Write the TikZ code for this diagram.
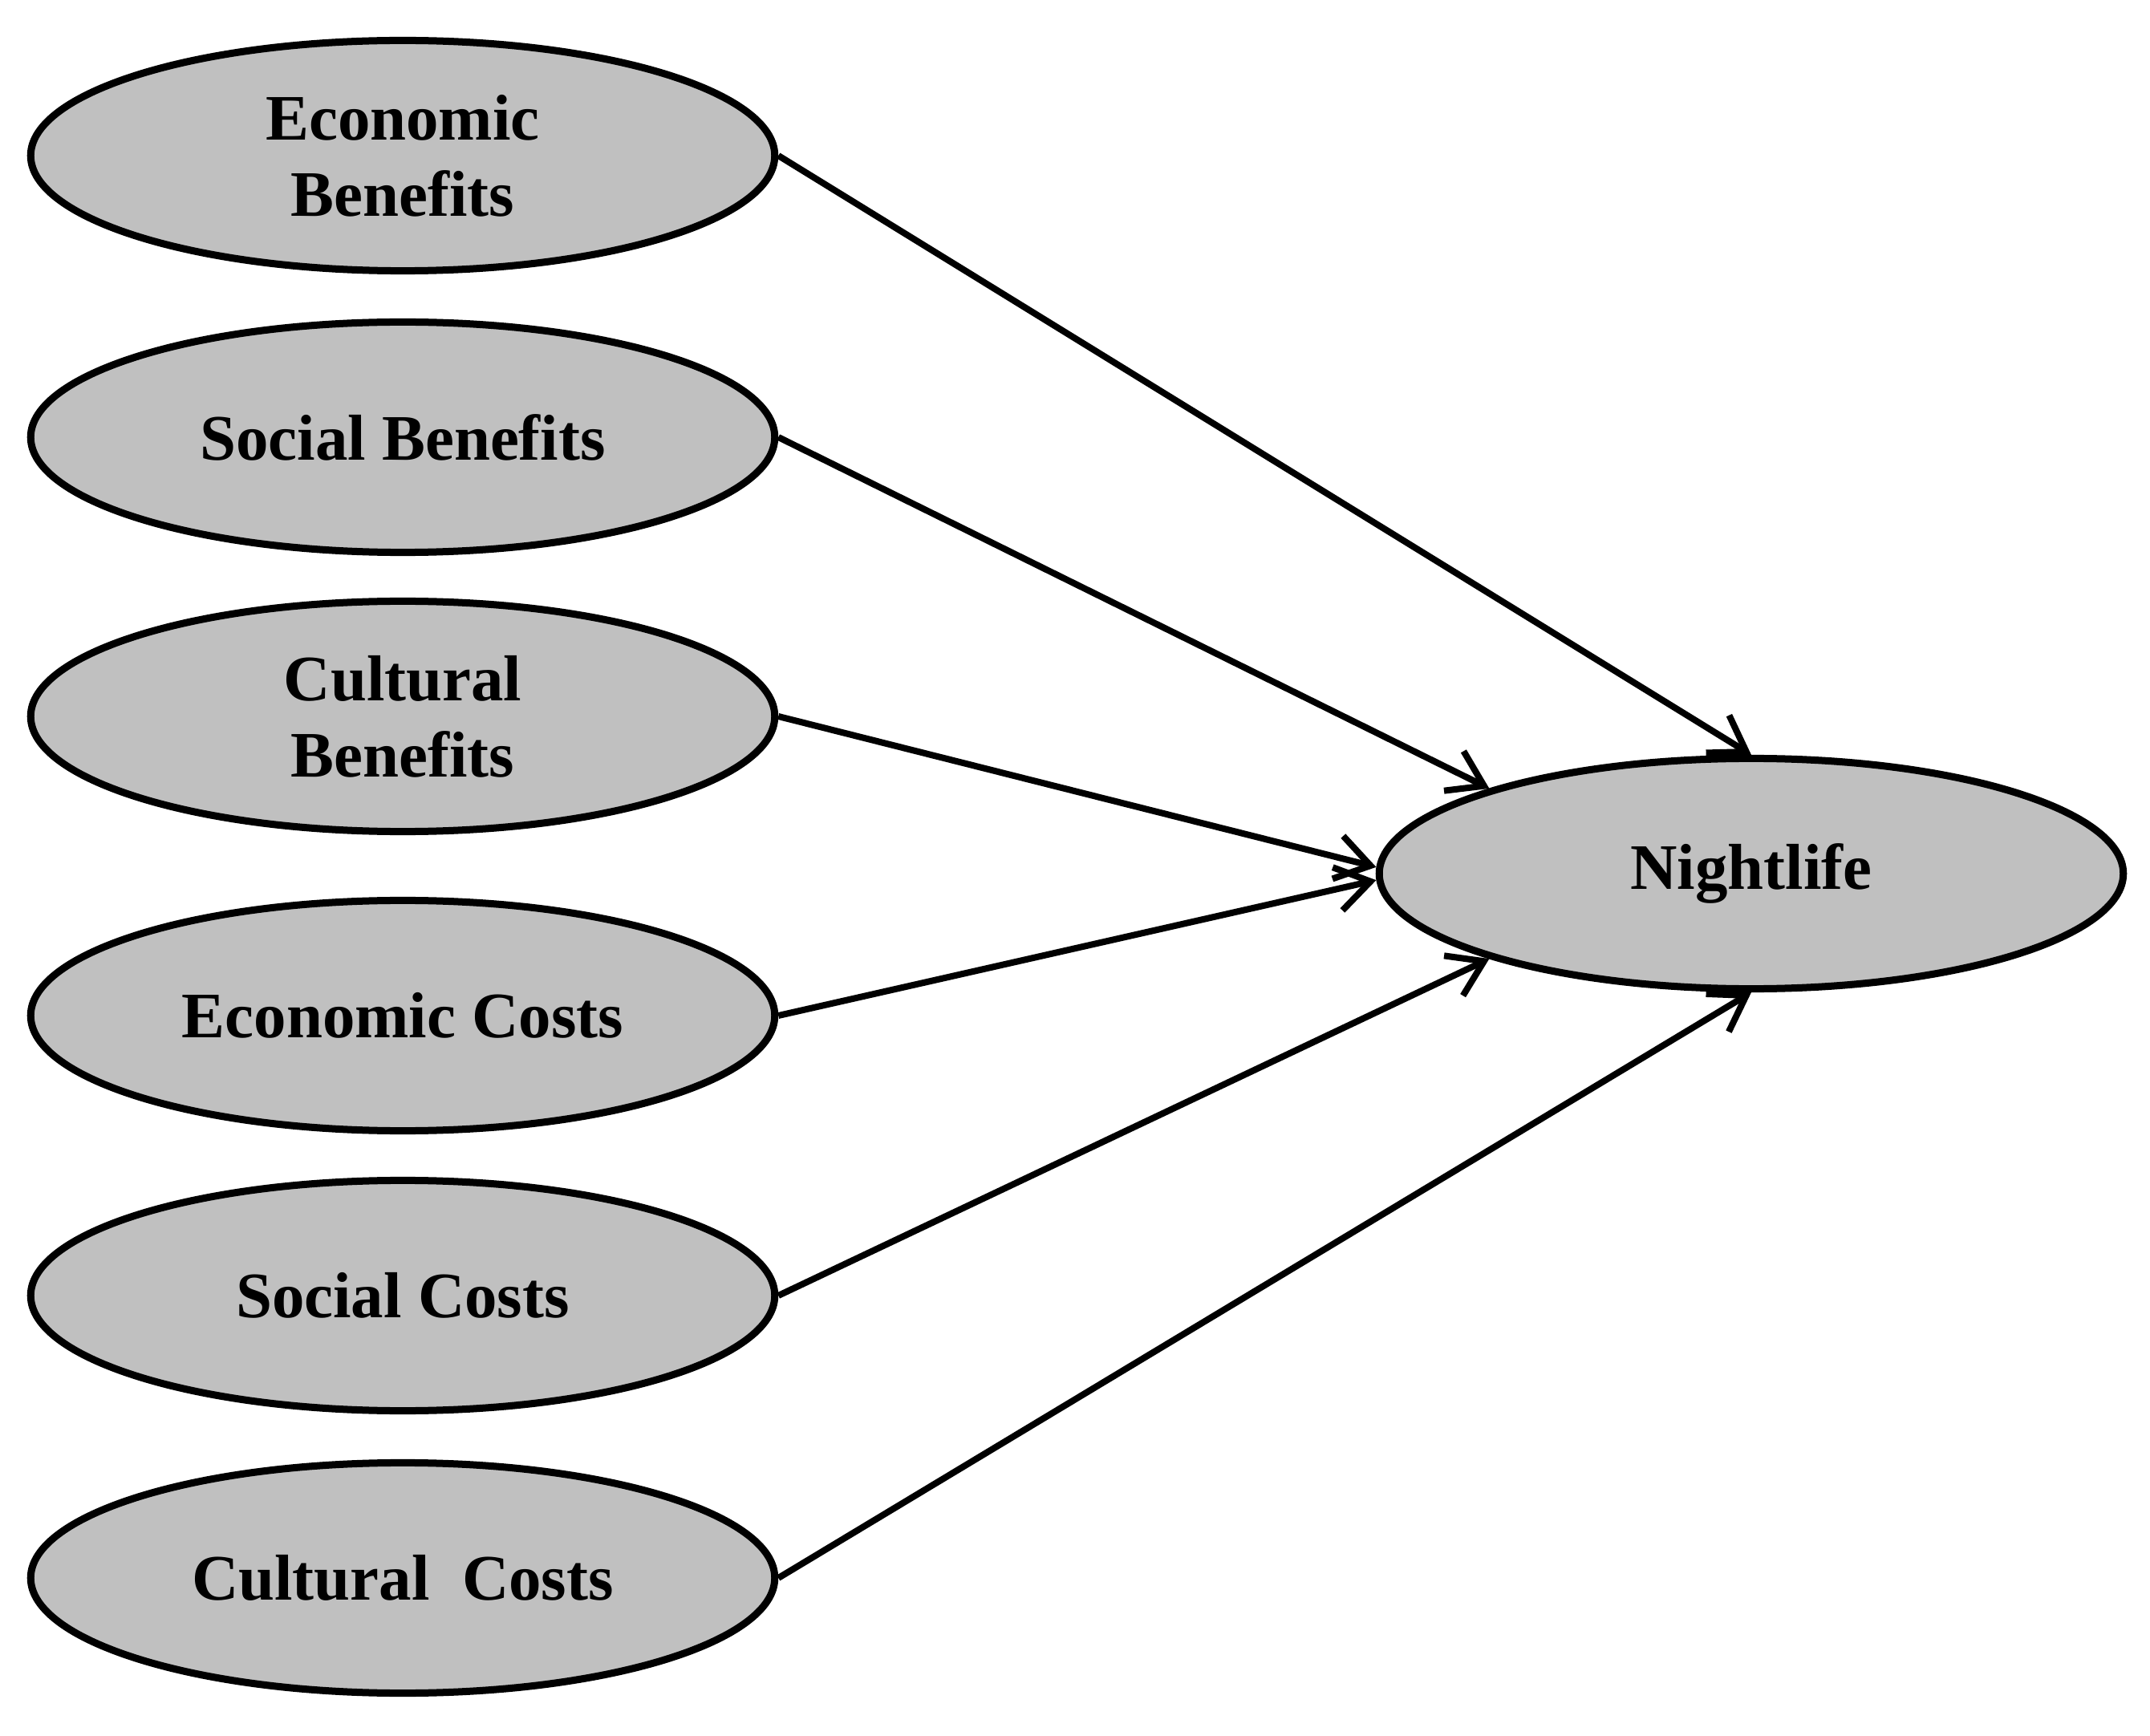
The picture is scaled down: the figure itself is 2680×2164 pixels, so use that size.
\documentclass[tikz,border=0pt]{standalone}
\usepackage{fontspec}
\setmainfont{Liberation Serif}
\usetikzlibrary{shapes.geometric,arrows.meta}
\definecolor{ovalgray}{RGB}{192,192,192}
\tikzset{
  oval/.style={ellipse, draw=black, fill=ovalgray, line width=0.09cm,
    minimum width=9.27cm, minimum height=2.87cm, inner sep=0pt,
    align=center, font=\fontsize{23}{27}\selectfont\bfseries},
  link/.style={line width=0.08cm, -{Straight Barb[length=0.42cm,width=0.55cm,line width=0.08cm]}}
}
\begin{document}
\begin{tikzpicture}[x=0.01cm,y=-0.01cm]
\useasboundingbox (0,0) rectangle (2680,2164);
\node[oval] (eb) at (502,194) {Economic\\Benefits};
\node[oval] (sb) at (502,545) {Social Benefits};
\node[oval] (cb) at (502,893) {Cultural\\Benefits};
\node[oval] (ec) at (502,1266) {Economic Costs};
\node[oval] (sc) at (502,1615) {Social Costs};
\node[oval] (cc) at (502,1967) {Cultural\ \ Costs};
\node[oval] (nl) at (2183,1089) {Nightlife};
\draw[link] (eb.east) -- (nl.north);
\draw[link] (sb.east) -- (nl.162);
\draw[link] (cb.east) -- (nl.179);
\draw[link] (ec.east) -- (nl.181);
\draw[link] (sc.east) -- (nl.198);
\draw[link] (cc.east) -- (nl.south);
\end{tikzpicture}
\end{document}
